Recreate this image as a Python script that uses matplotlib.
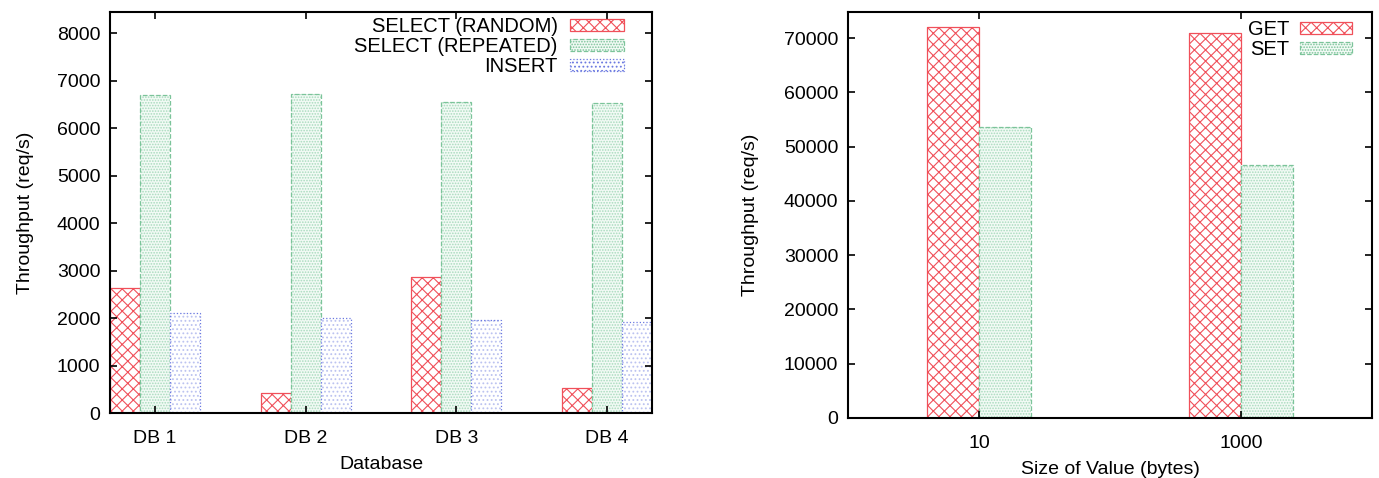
import numpy as np
import matplotlib.pyplot as plt
from matplotlib.patches import Patch

plt.rcParams['font.family'] = ['Liberation Sans', 'DejaVu Sans']
plt.rcParams['hatch.linewidth'] = 0.8

# left panel: database throughput
databases = ['DB 1', 'DB 2', 'DB 3', 'DB 4']
select_random = [2630, 430, 2870, 520]
select_repeated = [6700, 6730, 6560, 6530]
insert = [2100, 2000, 1950, 1920]

# right panel: key-value store throughput
value_sizes = ['10', '1000']
get_vals = [72000, 70900]
set_vals = [53600, 46600]

RED = '#f0505a'
GREEN = '#7cc49a'
BLUE = '#6a78e0'

# (fill, hatch colour, hatch, outline colour, outline style)
styles = {
    'red': ('white', RED, 'xxx', RED, '-'),
    'green': ('#f2faf5', '#a8dbbd', '......', GREEN, '--'),
    'blue': ('white', '#bcc3f0', '....', BLUE, ':'),
}


def hatched_bar(ax, xs, vals, width, key, label):
    fill, hcol, hatch, ecol, ls = styles[key]
    ax.bar(xs, vals, width, facecolor=fill, edgecolor=hcol, hatch=hatch, linewidth=0)
    ax.bar(xs, vals, width, fill=False, edgecolor=ecol, linewidth=0.9, linestyle=ls)
    return Patch(facecolor=fill, edgecolor=ecol, hatch=hatch, linewidth=0.9,
                 linestyle=ls, label=label)


def style_axes(ax):
    for s in ax.spines.values():
        s.set_linewidth(1.5)
    ax.tick_params(direction='in', top=True, right=True, length=5, width=1.2,
                   labelsize=14, pad=7)
    ax.tick_params(axis='x', pad=12)


def right_align_legend(leg):
    for col in leg._legend_box._children[-1]._children:
        col.align = 'right'


fig = plt.figure(figsize=(13.79, 4.78), dpi=100)

# ---- left chart
ax1 = fig.add_axes([110 / 1379, 1 - 413 / 478, 542 / 1379, 401 / 478])
x = np.arange(len(databases))
w = 0.2
h1 = [
    hatched_bar(ax1, x - w, select_random, w, 'red', 'SELECT (RANDOM)'),
    hatched_bar(ax1, x, select_repeated, w, 'green', 'SELECT (REPEATED)'),
    hatched_bar(ax1, x + w, insert, w, 'blue', 'INSERT'),
]
ax1.set_xlim(-0.3, 3.3)
ax1.set_ylim(0, 8450)
ax1.set_yticks(range(0, 8001, 1000))
ax1.set_xticks(x)
ax1.set_xticklabels(databases)
ax1.set_xlabel('Database', fontsize=14, labelpad=7)
ax1.set_ylabel('Throughput (req/s)', fontsize=14, labelpad=16)
style_axes(ax1)
leg1 = ax1.legend(handles=h1, loc='upper right', bbox_to_anchor=(0.958, 1.0),
                  markerfirst=False, frameon=False, fontsize=14.5, handlelength=2.7,
                  handleheight=0.6, labelspacing=0.05, handletextpad=0.6,
                  borderaxespad=0.05, borderpad=0.2)
right_align_legend(leg1)

# ---- right chart
ax2 = fig.add_axes([848 / 1379, 1 - 418 / 478, 524 / 1379, 406 / 478])
x2 = np.arange(len(value_sizes))
h2 = [
    hatched_bar(ax2, x2 - 0.1, get_vals, 0.2, 'red', 'GET'),
    hatched_bar(ax2, x2 + 0.1, set_vals, 0.2, 'green', 'SET'),
]
ax2.set_xlim(-0.5, 1.5)
ax2.set_ylim(0, 74800)
ax2.set_yticks(range(0, 70001, 10000))
ax2.set_xticks(x2)
ax2.set_xticklabels(value_sizes)
ax2.set_xlabel('Size of Value (bytes)', fontsize=14, labelpad=7)
ax2.set_ylabel('Throughput (req/s)', fontsize=14, labelpad=18)
style_axes(ax2)
leg2 = ax2.legend(handles=h2, loc='upper right', bbox_to_anchor=(0.977, 1.0),
                  markerfirst=False, frameon=False, fontsize=14.5, handlelength=2.6,
                  handleheight=0.6, labelspacing=0.05, handletextpad=0.5,
                  borderaxespad=0.2, borderpad=0.2)
right_align_legend(leg2)

fig.savefig('out.png', dpi=100)
